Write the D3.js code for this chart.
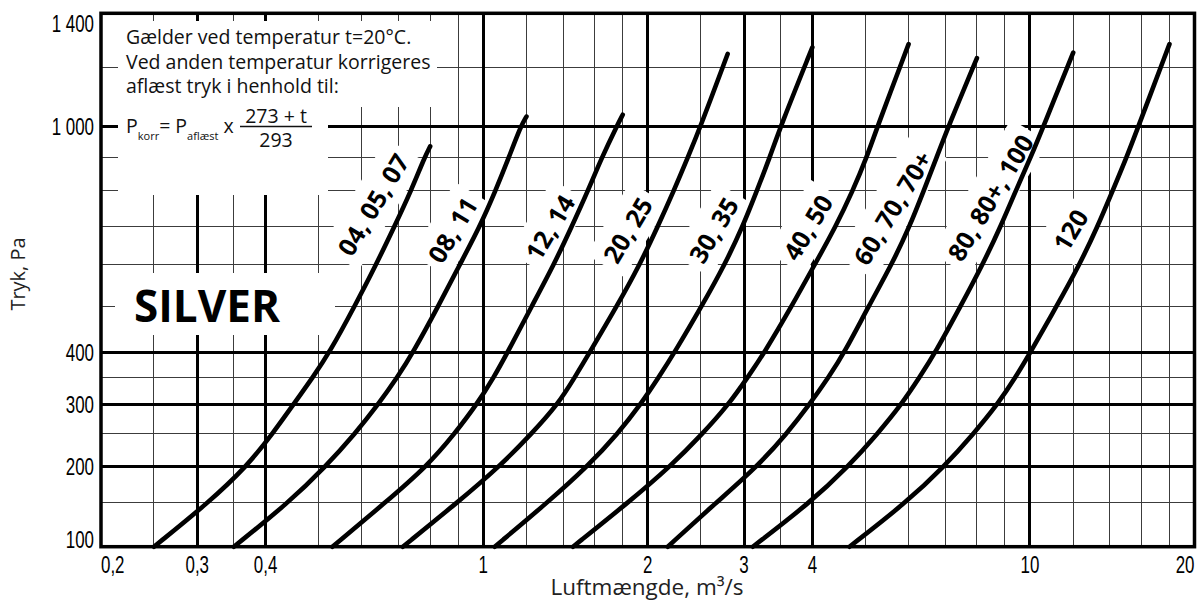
<!DOCTYPE html>
<html>
<head>
<meta charset="utf-8">
<script src="https://cdn.jsdelivr.net/npm/d3@7"></script>
<style>
  html, body { margin: 0; padding: 0; background: #fff; }
  svg { display: block; }
</style>
</head>
<body>
<svg id="chart" width="1200" height="602"></svg>
<script>
// ---- Data -------------------------------------------------------------
// Fan size groups, one pressure curve each
const sizeLabels = ["04, 05, 07", "08, 11", "12, 14", "20, 25", "30, 35",
                    "40, 50", "60, 70, 70+", "80, 80+, 100", "120"];

// Pressure levels (Pa) at which the air flow of each curve is listed
const pressureLevels = [100, 150, 200, 250, 300, 350, 400, 500, 600, 700, 800, 900, 1000];

// Air flow (m3/s) of each curve at the pressure levels above
const flow_04_05_07 = [0.250, 0.314, 0.370, 0.412, 0.450, 0.488, 0.524, 0.582, 0.637, 0.688, 0.738, 0.781, null];
const flow_08_11    = [0.350, 0.440, 0.516, 0.583, 0.643, 0.697, 0.745, 0.828, 0.906, 0.986, 1.053, 1.114, 1.172];
const flow_12_14    = [0.530, 0.661, 0.790, 0.887, 0.974, 1.046, 1.109, 1.227, 1.347, 1.452, 1.554, 1.648, 1.756];
const flow_20_25    = [0.713, 0.895, 1.073, 1.227, 1.370, 1.471, 1.567, 1.756, 1.934, 2.086, 2.231, 2.367, 2.500];
const flow_30_35    = [1.050, 1.308, 1.554, 1.763, 1.942, 2.095, 2.241, 2.510, 2.766, 2.984, 3.165, 3.343, 3.501];
const flow_40_50    = [1.460, 1.838, 2.203, 2.521, 2.813, 3.047, 3.273, 3.667, 4.039, 4.414, 4.740, 5.028, 5.266];
const flow_60_70    = [2.176, 2.663, 3.178, 3.591, 3.955, 4.285, 4.583, 5.070, 5.585, 6.026, 6.391, 6.750, 7.100];
const flow_80_100   = [3.113, 3.955, 4.661, 5.266, 5.825, 6.284, 6.722, 7.468, 8.193, 8.840, 9.416, 10.028, 10.592];
const flow_120      = [4.677, 5.927, 6.982, 7.889, 8.729, 9.416, 10.028, 11.189, 12.325, 13.296, 14.161, 15.021, 15.799];

// Upper end point of each curve
const endFlow     = [0.8, 1.2, 1.8, 2.8, 4, 6, 8, 12, 18];
const endPressure = [935, 1031, 1037, 1248, 1272, 1284, 1233, 1253, 1284];

// Axis ticks and grid
const xTickValues = [0.2, 0.3, 0.4, 1, 2, 3, 4, 10, 20];
const xTickText   = ["0,2", "0,3", "0,4", "1", "2", "3", "4", "10", "20"];
const yTickValues = [100, 200, 300, 400, 1000, 1400];
const yTickText   = ["100", "200", "300", "400", "1 000", "1 400"];
const xGridMajor  = [0.3, 0.4, 1, 2, 3, 4, 10];
const xGridMinor  = [0.25, 0.35, 0.5, 0.6, 0.7, 0.8, 0.9, 1.2, 1.4, 1.6, 1.8, 2.5, 3.5,
                     5, 6, 7, 8, 9, 12, 14, 16, 18];
const yGridMajor  = [200, 300, 400, 1000];
const yGridMinor  = [150, 250, 350, 500, 600, 700, 800, 900, 1200];

const noteLines = ["Gælder ved temperatur t=20°C.",
                   "Ved anden temperatur korrigeres",
                   "aflæst tryk i henhold til:"];

// ---- Layout -----------------------------------------------------------
const flowRows = [flow_04_05_07, flow_08_11, flow_12_14, flow_20_25, flow_30_35,
                  flow_40_50, flow_60_70, flow_80_100, flow_120];

const svg = d3.select("#chart");
const x = d3.scaleLog().domain([0.2, 20]).range([101, 1194.5]);
const y = d3.scaleSqrt().domain([100, 1400]).range([546.7, 13.3]);
const [xL, xR] = x.range();
const [yB, yT] = y.range();

const tickFont = "'Liberation Sans', Arimo, sans-serif";
const textFont = "'Open Sans', 'Noto Sans', sans-serif";
const narrow = 0.72;   // horizontal squeeze for the technical tick lettering

// grid
const grid = svg.append("g").attr("shape-rendering", "crispEdges");
grid.selectAll(".vmin").data(xGridMinor).join("line")
  .attr("x1", d => x(d)).attr("x2", d => x(d)).attr("y1", yT).attr("y2", yB)
  .attr("stroke", "#3c3c3c").attr("stroke-width", 1);
grid.selectAll(".hmin").data(yGridMinor).join("line")
  .attr("x1", xL).attr("x2", xR).attr("y1", d => y(d)).attr("y2", d => y(d))
  .attr("stroke", "#3c3c3c").attr("stroke-width", 1);
grid.selectAll(".vmaj").data(xGridMajor).join("line")
  .attr("x1", d => x(d)).attr("x2", d => x(d)).attr("y1", yT).attr("y2", yB)
  .attr("stroke", "#000").attr("stroke-width", 3);
grid.selectAll(".hmaj").data(yGridMajor).join("line")
  .attr("x1", xL).attr("x2", xR).attr("y1", d => y(d)).attr("y2", d => y(d))
  .attr("stroke", "#000").attr("stroke-width", 3);

// white panels behind the note and the product name
const panels = svg.append("g").attr("fill", "#fff");
panels.append("rect").attr("x", 118).attr("y", 21).attr("width", 319).attr("height", 86);
panels.append("rect").attr("x", 118).attr("y", 107).attr("width", 210).attr("height", 88);
panels.append("rect").attr("x", 115).attr("y", 273).attr("width", 220).attr("height", 62);

// frame
svg.append("rect")
  .attr("x", xL).attr("y", yT).attr("width", xR - xL).attr("height", yB - yT)
  .attr("fill", "none").attr("stroke", "#000").attr("stroke-width", 3.5);

// curve points
const curves = flowRows.map((row, i) => {
  const pts = [];
  row.forEach((q, j) => { if (q != null) pts.push([q, pressureLevels[j]]); });
  pts.push([endFlow[i], endPressure[i]]);
  return pts;
});

// label placement: pressure where the label sits and shift left of the curve (px)
const labelAtPressure = [760, 690, 697, 690, 690, 697, 751, 780, 690];
const labelShift = [31, 25, 21, 28, 27, 27, 24, 22, 25];
const labelAngle = -59;

function curveXAt(pts, p) {
  const sp = pts.map(d => [x(d[0]), y(d[1])]);
  const yy = y(p);
  for (let k = 0; k < sp.length - 1; k++) {
    const a = sp[k], b = sp[k + 1];
    if (yy <= a[1] && yy >= b[1]) {
      const t = (a[1] - yy) / (a[1] - b[1]);
      return a[0] + t * (b[0] - a[0]);
    }
  }
  return sp[sp.length - 1][0];
}

const labelG = svg.append("g");
const labelNodes = sizeLabels.map((lab, i) => {
  const cx = curveXAt(curves[i], labelAtPressure[i]) - labelShift[i];
  const cy = y(labelAtPressure[i]);
  const g = labelG.append("g").attr("transform", `translate(${cx},${cy}) rotate(${labelAngle})`);
  const bg = g.append("rect").attr("fill", "#fff");
  const t = g.append("text")
    .attr("text-anchor", "middle").attr("dy", "0.36em")
    .attr("font-family", textFont).attr("font-weight", 700)
    .attr("font-size", 25).attr("fill", "#000").text(lab);
  const bb = t.node().getBBox();
  bg.attr("x", bb.x - 7).attr("y", bb.y - 5).attr("width", bb.width + 14).attr("height", bb.height + 10);
  return t;
});

// curves
const line = d3.line().x(d => x(d[0])).y(d => y(d[1])).curve(d3.curveBasis);
svg.append("g").selectAll("path").data(curves).join("path")
  .attr("d", line).attr("fill", "none").attr("stroke", "#000")
  .attr("stroke-width", 4.6).attr("stroke-linecap", "round");

// bring label texts above curves
labelNodes.forEach(t => t.raise());

// tick labels
svg.append("g").selectAll("text").data(xTickValues).join("text")
  .attr("transform", (d, i) => {
    const px = i === 0 ? xL : (i === xTickValues.length - 1 ? xR : x(d));
    return `translate(${px},573) scale(${narrow},1)`;
  })
  .attr("text-anchor", (d, i) => i === 0 ? "start" : (i === xTickValues.length - 1 ? "end" : "middle"))
  .attr("font-family", tickFont).attr("font-size", 23.5).attr("fill", "#000")
  .text((d, i) => xTickText[i]);

svg.append("g").selectAll("text").data(yTickValues).join("text")
  .attr("transform", d => {
    const py = d === 1400 ? y(d) + 18.5 : (d === 100 ? y(d) + 1.5 : y(d) + 8.5);
    return `translate(94,${py}) scale(${narrow},1)`;
  })
  .attr("text-anchor", "end")
  .attr("font-family", tickFont).attr("font-size", 23.5).attr("fill", "#000")
  .text((d, i) => yTickText[i]);

// axis titles
svg.append("text").attr("x", 647).attr("y", 595).attr("text-anchor", "middle")
  .attr("font-family", textFont).attr("font-size", 22.5).attr("fill", "#222")
  .text("Luftmængde, m³/s");
svg.append("text").attr("transform", "translate(25,274) rotate(-90)").attr("text-anchor", "middle")
  .attr("font-family", textFont).attr("font-size", 20).attr("fill", "#222")
  .text("Tryk, Pa");

// note text
const note = svg.append("g").attr("font-family", textFont).attr("fill", "#111");
note.selectAll("text.l").data(noteLines).join("text")
  .attr("x", 126).attr("y", (d, i) => 44 + i * 24.5)
  .attr("font-size", 19.5).text(d => d);

const f = note.append("text").attr("x", 126).attr("y", 133).attr("font-size", 19.5);
f.append("tspan").text("P");
f.append("tspan").attr("font-size", 11).attr("dy", 7).text("korr");
f.append("tspan").attr("dy", -7).text("= P");
f.append("tspan").attr("font-size", 11).attr("dy", 7).text("aflæst");
f.append("tspan").attr("dy", -7).text(" x");
note.append("text").attr("x", 276).attr("y", 123).attr("text-anchor", "middle")
  .attr("font-size", 19.5).text("273 + t");
note.append("line").attr("x1", 240).attr("x2", 312).attr("y1", 126.5).attr("y2", 126.5)
  .attr("stroke", "#111").attr("stroke-width", 1.3);
note.append("text").attr("x", 276).attr("y", 147).attr("text-anchor", "middle")
  .attr("font-size", 19.5).text("293");

// product name
svg.append("text").attr("x", 134).attr("y", 322)
  .attr("font-family", textFont).attr("font-weight", 700).attr("font-size", 44)
  .attr("fill", "#000").text("SILVER");
</script>
</body>
</html>
